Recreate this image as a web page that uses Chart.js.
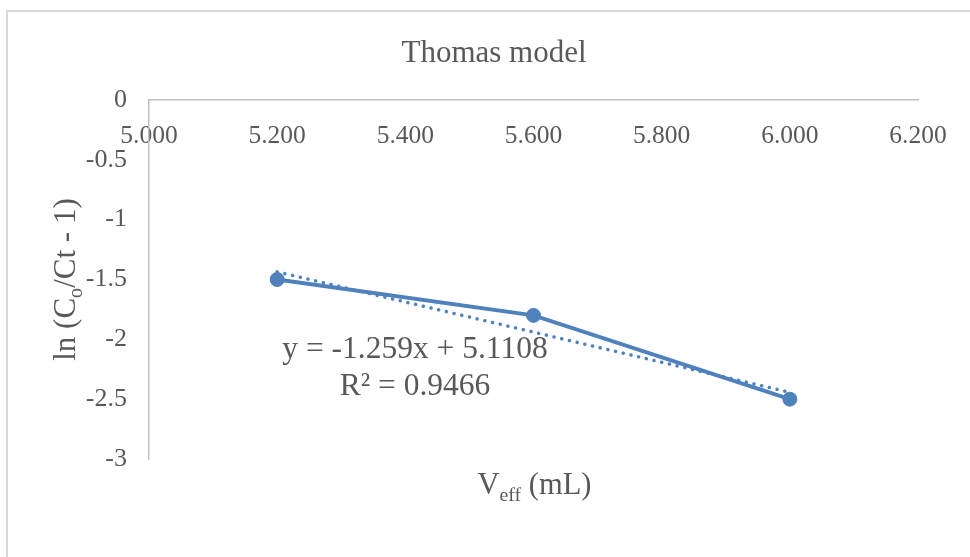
<!DOCTYPE html>
<html>
<head>
<meta charset="utf-8">
<script src="https://cdn.jsdelivr.net/npm/chart.js@4/dist/chart.umd.min.js"></script>
<style>
  html, body { margin: 0; padding: 0; background: #fff; }
  #wrap { width: 970px; height: 557px; }
</style>
</head>
<body>
<div id="wrap"><canvas id="thomas" width="970" height="557"></canvas></div>
<script>
// measured points
var vEff = [5.2, 5.6, 6.0];
var lnRatio = [-1.5, -1.8, -2.5];

// linear fit shown on the chart
var fitSlope = -1.259;
var fitIntercept = 5.1108;
var fitR2 = 0.9466;

var xTickValues = [5.0, 5.2, 5.4, 5.6, 5.8, 6.0, 6.2];
var xTickLabels = ['5.000', '5.200', '5.400', '5.600', '5.800', '6.000', '6.200'];
var yTickValues = [0, -0.5, -1, -1.5, -2, -2.5, -3];
var yTickLabels = ['0', '-0.5', '-1', '-1.5', '-2', '-2.5', '-3'];

var SERIF = "'Liberation Serif', 'Times New Roman', serif";
var TEXT = '#595959';
var BLUE = '#4f81bd';

var points = [];
for (var i = 0; i < vEff.length; i++) {
  points.push({ x: vEff[i], y: lnRatio[i] });
}
var x0 = vEff[0], x1 = vEff[vEff.length - 1];
var fitLine = [
  { x: x0, y: fitSlope * x0 + fitIntercept },
  { x: x1, y: fitSlope * x1 + fitIntercept }
];

// text runs with a lowered, smaller part (subscripts)
function drawRuns(ctx, runs, size, cx, baseline) {
  var total = 0;
  runs.forEach(function (r) {
    ctx.font = (r.sub ? size * 0.65 : size) + 'px ' + SERIF;
    r.w = ctx.measureText(r.t).width;
    total += r.w;
  });
  var x = cx - total / 2;
  runs.forEach(function (r) {
    ctx.font = (r.sub ? size * 0.65 : size) + 'px ' + SERIF;
    ctx.fillText(r.t, x, baseline + (r.sub ? size * 0.22 : 0));
    x += r.w;
  });
}

var decorations = {
  id: 'decorations',
  beforeDraw: function (chart) {
    var ctx = chart.ctx;
    ctx.save();
    ctx.strokeStyle = '#d9d9d9';
    ctx.lineWidth = 2;
    ctx.strokeRect(7, 11, chart.width + 20, chart.height + 20);
    ctx.restore();
  },
  afterDraw: function (chart) {
    var ctx = chart.ctx;
    var area = chart.chartArea;
    ctx.save();
    ctx.fillStyle = TEXT;
    ctx.textAlign = 'left';
    ctx.textBaseline = 'alphabetic';

    // title
    ctx.font = '31px ' + SERIF;
    ctx.textAlign = 'center';
    ctx.fillText('Thomas model', 494, 62);
    ctx.textAlign = 'left';

    // x axis title
    drawRuns(ctx, [{ t: 'V' }, { t: 'eff', sub: true }, { t: ' (mL)' }], 30.5,
      (area.left + area.right) / 2 + 1, 494);

    // y axis title, rotated
    ctx.save();
    ctx.translate(75, (area.top + area.bottom) / 2);
    ctx.rotate(-Math.PI / 2);
    drawRuns(ctx, [{ t: 'ln (C' }, { t: 'o', sub: true }, { t: '/Ct - 1)' }], 31, 0, 0);
    ctx.restore();

    // trendline equation
    ctx.font = '31.5px ' + SERIF;
    ctx.textAlign = 'center';
    ctx.fillText('y = ' + fitSlope + 'x + ' + fitIntercept, 415, 358);
    ctx.fillText('R\u00b2 = ' + fitR2, 415, 395);
    ctx.restore();
  }
};

new Chart(document.getElementById('thomas'), {
  type: 'scatter',
  data: {
    datasets: [
      {
        label: 'Linear fit',
        data: fitLine,
        showLine: true,
        borderColor: BLUE,
        borderWidth: 3.5,
        borderDash: [0.1, 7.8],
        borderCapStyle: 'round',
        pointRadius: 0,
        pointHoverRadius: 0
      },
      {
        label: 'ln(Co/Ct - 1)',
        data: points,
        showLine: true,
        borderColor: BLUE,
        backgroundColor: BLUE,
        borderWidth: 3.8,
        pointRadius: 7,
        pointBorderWidth: 1,
        pointBackgroundColor: BLUE,
        pointBorderColor: BLUE,
        pointHoverRadius: 7
      }
    ]
  },
  options: {
    responsive: false,
    devicePixelRatio: 1,
    animation: false,
    layout: { padding: { left: 10, right: 52, top: 100, bottom: 98 } },
    plugins: {
      legend: { display: false },
      title: { display: false },
      tooltip: { enabled: false }
    },
    scales: {
      x: {
        type: 'linear',
        position: { y: 0 },
        min: 5.0,
        max: 6.2,
        afterBuildTicks: function (scale) {
          scale.ticks = xTickValues.map(function (v) { return { value: v }; });
        },
        ticks: {
          padding: 21,
          color: TEXT,
          font: { family: SERIF, size: 25.5 },
          maxRotation: 0,
          autoSkip: false,
          callback: function (value, index) { return xTickLabels[index]; }
        },
        grid: { color: 'rgba(0,0,0,0)', drawTicks: false },
        border: { display: true, color: '#bfbfbf', width: 1.5 }
      },
      y: {
        type: 'linear',
        position: 'left',
        min: -3,
        max: 0,
        afterFit: function (scale) { scale.width = 139; },
        afterBuildTicks: function (scale) {
          scale.ticks = yTickValues.map(function (v) { return { value: v }; });
        },
        ticks: {
          padding: 22,
          color: TEXT,
          font: { family: SERIF, size: 26 },
          autoSkip: false,
          callback: function (value, index) { return yTickLabels[index]; }
        },
        grid: { color: 'rgba(0,0,0,0)', drawTicks: false },
        border: { display: true, color: '#bfbfbf', width: 1.5 }
      }
    }
  },
  plugins: [decorations]
});
</script>
</body>
</html>
